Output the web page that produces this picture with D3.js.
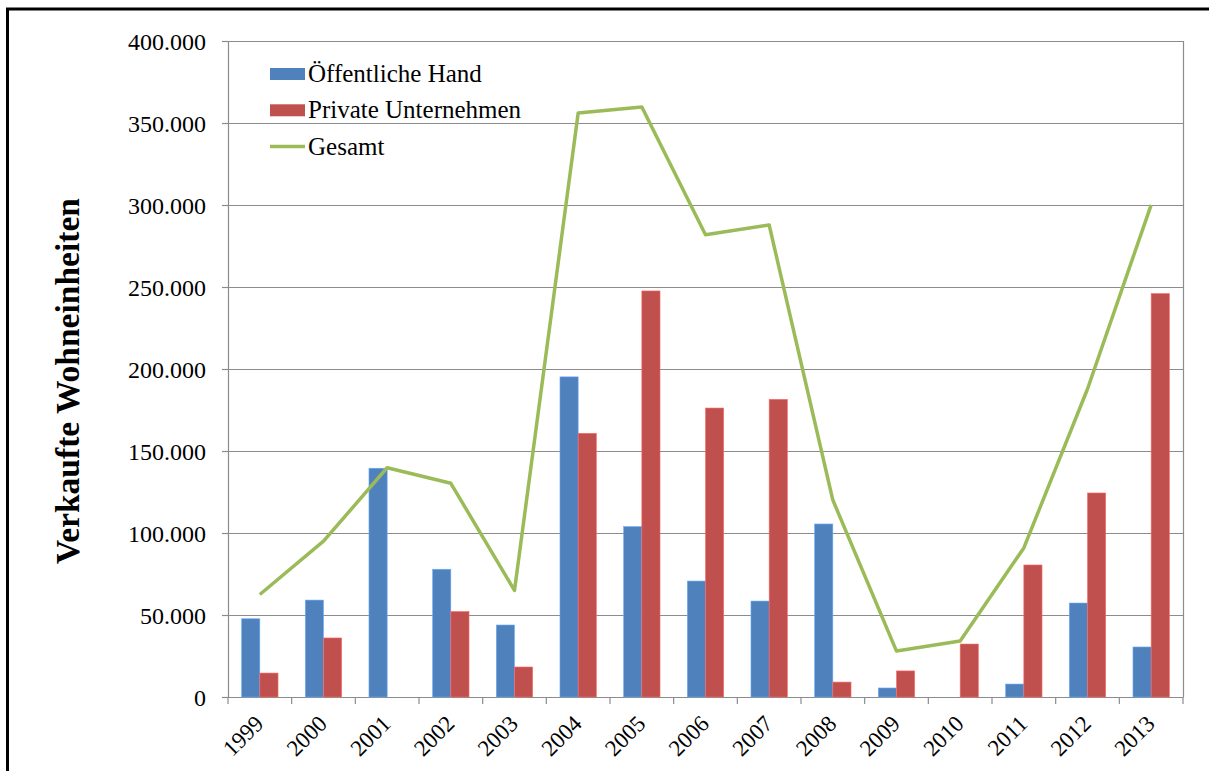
<!DOCTYPE html>
<html>
<head>
<meta charset="utf-8">
<script src="https://cdn.jsdelivr.net/npm/d3@7"></script>
<style>
  body { margin: 0; background: #fff; }
</style>
</head>
<body>
<div id="vis"></div>
<script>
var years = ["1999", "2000", "2001", "2002", "2003", "2004", "2005", "2006",
             "2007", "2008", "2009", "2010", "2011", "2012", "2013"];
// Öffentliche Hand
var oeffentlich = [47700, 59100, 139500, 77900, 43900, 195200, 103900, 70700,
                   58500, 105500, 5500, 0, 7900, 57300, 30500];
// Private Unternehmen
var privat = [14600, 36000, 0, 52100, 18300, 160800, 247600, 176200,
              181500, 9100, 15900, 32300, 80500, 124400, 246000];
// Gesamt
var gesamt = [62500, 95000, 139800, 130300, 65000, 356100, 359800, 281900,
              287800, 120100, 28000, 34100, 90900, 187800, 300100];
var yTicks = [0, 50000, 100000, 150000, 200000, 250000, 300000, 350000, 400000];
var seriesNames = ["Öffentliche Hand", "Private Unternehmen", "Gesamt"];
var colors = ["#4F81BD", "#C0504D", "#9BBB59"];

var serif = "'Liberation Serif', 'Times New Roman', 'DejaVu Serif', serif";

var width = 1209,
    height = 771,
    margin = { top: 41, right: 26, bottom: 74, left: 228 },
    drawWidth = width - margin.left - margin.right,
    drawHeight = height - margin.top - margin.bottom;

var svg = d3.select("#vis").append("svg")
    .attr("width", width)
    .attr("height", height);

// outer frame (runs off the right and bottom edge)
svg.append("rect")
    .attr("x", 7.5).attr("y", 9)
    .attr("width", width + 20).attr("height", height + 20)
    .attr("fill", "none").attr("stroke", "#000").attr("stroke-width", 3);

var g = svg.append("g")
    .attr("transform", "translate(" + margin.left + "," + margin.top + ")");

var x = d3.scaleBand()
    .domain(years)
    .range([0, drawWidth]);

var y = d3.scaleLinear()
    .domain([0, 400000])
    .range([drawHeight, 0]);

// gap width 150% -> bar = band / 3.5
var barW = x.bandwidth() / 3.5;
var groupOffset = (x.bandwidth() - 2 * barW) / 2;

// gridlines
g.append("g")
    .selectAll("line")
    .data(yTicks)
    .enter().append("line")
    .attr("x1", 0).attr("x2", drawWidth)
    .attr("y1", function(d) { return Math.round(y(d)) + 0.5; })
    .attr("y2", function(d) { return Math.round(y(d)) + 0.5; })
    .attr("stroke", "#8c8c8c")
    .attr("stroke-width", 1.2);

// right border of plot
g.append("line")
    .attr("x1", drawWidth + 0.5).attr("x2", drawWidth + 0.5)
    .attr("y1", 0).attr("y2", drawHeight)
    .attr("stroke", "#8c8c8c").attr("stroke-width", 1.2);

var fmt = function(d) {
    return d === 0 ? "0" : d3.format(",")(d).replace(/,/g, ".");
};

var yAxis = d3.axisLeft(y)
    .tickValues(yTicks)
    .tickFormat(fmt)
    .tickSizeInner(6)
    .tickSizeOuter(0)
    .tickPadding(16);

var yg = g.append("g").call(yAxis).attr("font-family", serif);
yg.select(".domain").attr("stroke", "#8c8c8c").attr("stroke-width", 1.2);
yg.selectAll(".tick line").attr("stroke", "#8c8c8c").attr("stroke-width", 1.2);
yg.selectAll("text")
    .style("font-family", serif)
    .style("font-size", "24px")
    .attr("fill", "#000")
    .attr("dy", "0.35em");

var xAxis = d3.axisBottom(x)
    .tickSize(0)
    .tickPadding(0);

var xg = g.append("g")
    .attr("transform", "translate(0," + drawHeight + ")")
    .call(xAxis)
    .attr("font-family", serif);
xg.select(".domain").attr("stroke", "#8c8c8c").attr("stroke-width", 1.2);
xg.selectAll(".tick text")
    .style("font-family", serif)
    .style("font-size", "23px")
    .attr("fill", "#000")
    .attr("text-anchor", "end")
    .attr("transform", "translate(5,28) rotate(-45)")
    .attr("dy", "0")
    .attr("y", 0)
    .attr("x", 0);

// category boundary ticks
g.append("g")
    .selectAll("line")
    .data(years.concat(["end"]))
    .enter().append("line")
    .attr("x1", function(d, i) { return i < years.length ? x(d) : drawWidth; })
    .attr("x2", function(d, i) { return i < years.length ? x(d) : drawWidth; })
    .attr("y1", drawHeight)
    .attr("y2", drawHeight + 7)
    .attr("stroke", "#8c8c8c")
    .attr("stroke-width", 1.2);

// bars
g.append("g")
    .selectAll("rect")
    .data(oeffentlich)
    .enter().append("rect")
    .attr("x", function(d, i) { return x(years[i]) + groupOffset; })
    .attr("y", function(d) { return y(d); })
    .attr("width", barW)
    .attr("height", function(d) { return drawHeight - y(d); })
    .attr("fill", colors[0])
    .attr("stroke", d3.color(colors[0]).brighter(0.8))
    .attr("stroke-width", 0.6);

g.append("g")
    .selectAll("rect")
    .data(privat)
    .enter().append("rect")
    .attr("x", function(d, i) { return x(years[i]) + groupOffset + barW; })
    .attr("y", function(d) { return y(d); })
    .attr("width", barW)
    .attr("height", function(d) { return drawHeight - y(d); })
    .attr("fill", colors[1])
    .attr("stroke", d3.color(colors[1]).brighter(0.8))
    .attr("stroke-width", 0.6);

// Gesamt line
var line = d3.line()
    .x(function(d, i) { return x(years[i]) + x.bandwidth() / 2; })
    .y(function(d) { return y(d); });

g.append("path")
    .datum(gesamt)
    .attr("fill", "none")
    .attr("stroke", colors[2])
    .attr("stroke-width", 3.5)
    .attr("stroke-linejoin", "round")
    .attr("d", line);

// legend
var legend = svg.append("g")
    .attr("transform", "translate(270,74)");
seriesNames.forEach(function(name, i) {
    var row = legend.append("g").attr("transform", "translate(0," + (i * 36.3) + ")");
    if (i < 2) {
        row.append("rect")
            .attr("x", 0).attr("y", -6)
            .attr("width", 35).attr("height", 12)
            .attr("fill", colors[i]);
    } else {
        row.append("line")
            .attr("x1", 0).attr("x2", 35)
            .attr("y1", 0).attr("y2", 0)
            .attr("stroke", colors[2])
            .attr("stroke-width", 3.5);
    }
    row.append("text")
        .attr("x", 38)
        .attr("y", 0)
        .attr("dy", "0.32em")
        .style("font-family", serif)
        .style("font-size", "25px")
        .text(name);
});

// y axis title
svg.append("text")
    .attr("transform", "translate(67,381) rotate(-90)")
    .attr("text-anchor", "middle")
    .attr("dy", "0.35em")
    .style("font-family", serif)
    .style("font-size", "33.5px")
    .style("font-weight", "bold")
    .text("Verkaufte Wohneinheiten");
</script>
</body>
</html>
